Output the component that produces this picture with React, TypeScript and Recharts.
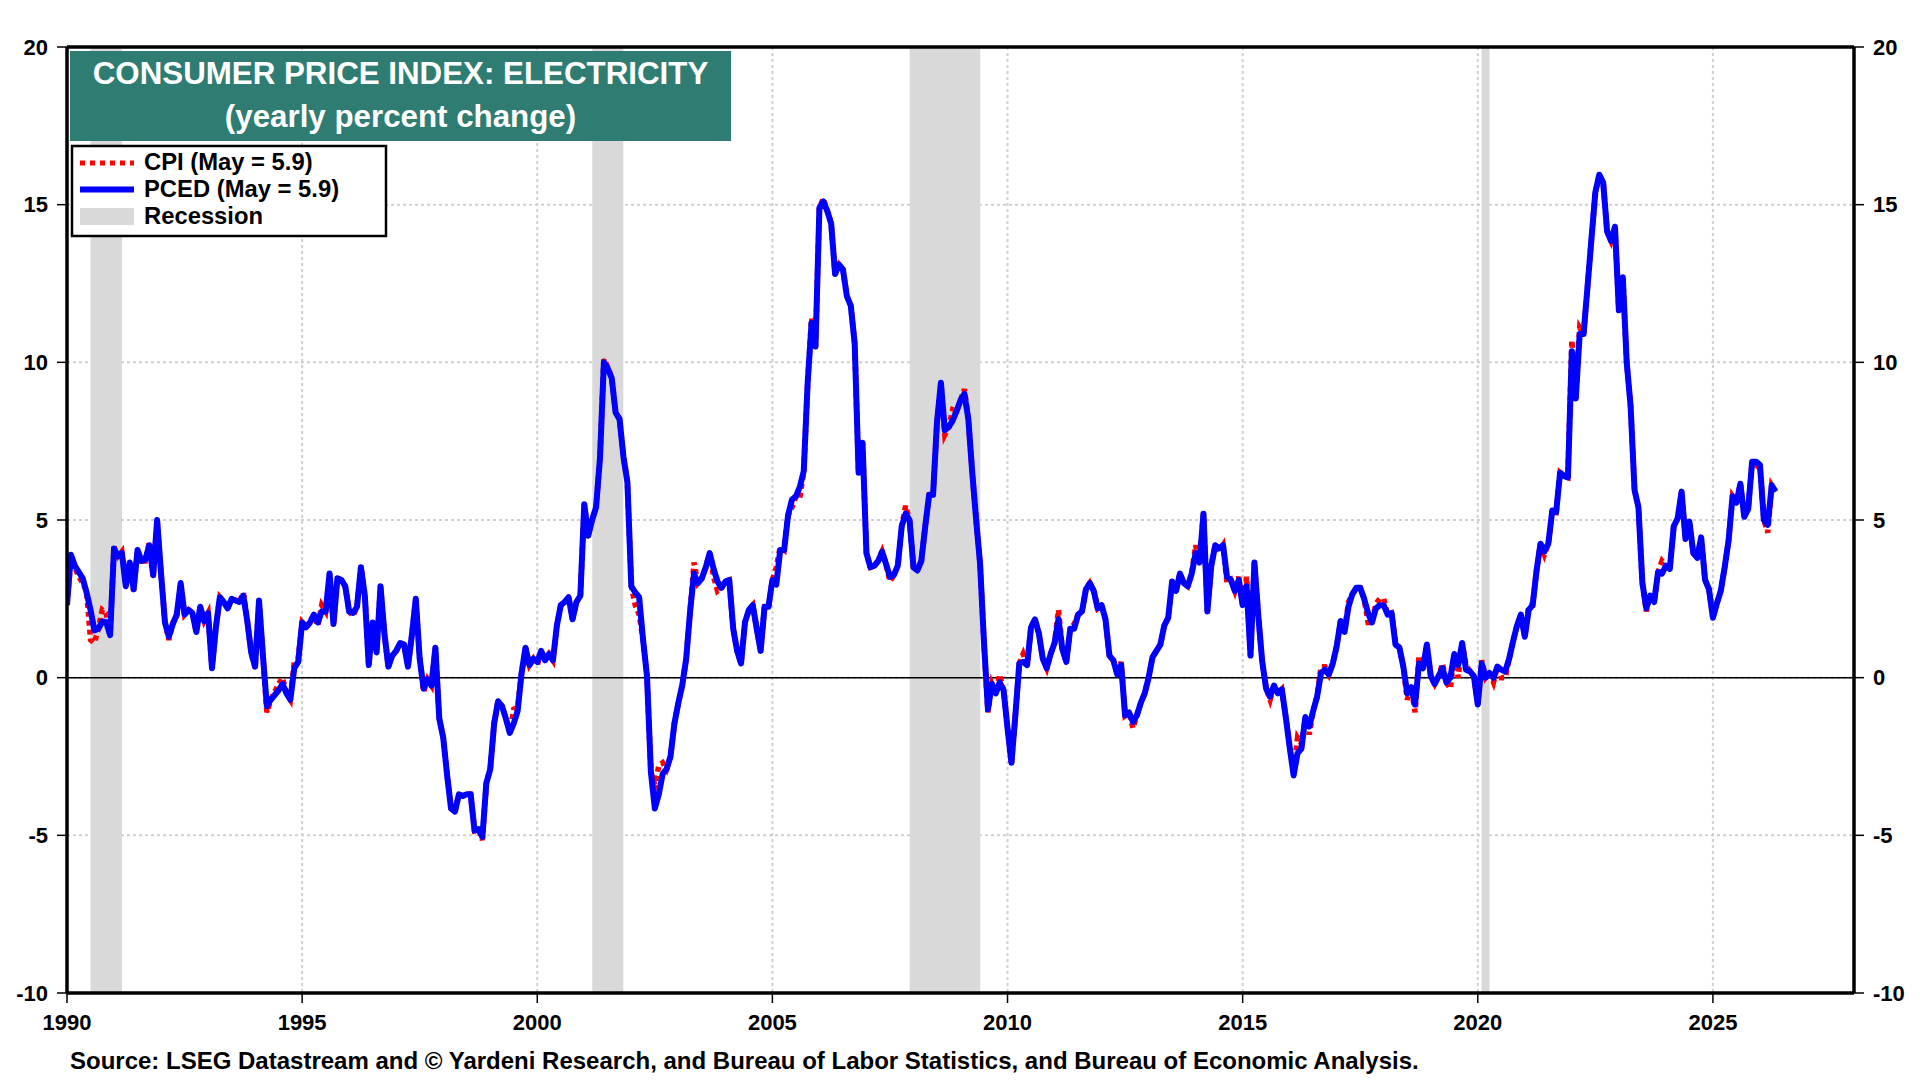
import React from 'react';
import { LineChart, Line, XAxis, YAxis, CartesianGrid, ReferenceArea, ReferenceLine } from 'recharts';

const FONT = '"Liberation Sans", Arial, Helvetica, sans-serif';

// Monthly series, first value = January 1990
const START_YEAR = 1990;

const pced: number[] = [
  // 1990
  2.3, 3.9, 3.55, 3.35, 3.15, 2.7, 2.15, 1.5, 1.55, 1.78, 1.76, 1.35,
  // 1991
  4.1, 3.85, 3.95, 2.9, 3.65, 2.8, 4.05, 3.7, 3.75, 4.2, 3.25, 5.0,
  // 1992
  3.3, 1.75, 1.3, 1.7, 2.0, 3.0, 2.0, 2.15, 2.05, 1.45, 2.25, 1.8,
  // 1993
  2.05, 0.3, 1.6, 2.55, 2.4, 2.2, 2.5, 2.45, 2.4, 2.6, 1.8, 0.8,
  // 1994
  0.35, 2.45, 0.7, -0.9, -0.7, -0.55, -0.4, -0.2, -0.5, -0.7, 0.3, 0.5,
  // 1995
  1.75, 1.6, 1.75, 2.0, 1.75, 2.1, 2.1, 3.3, 1.7, 3.15, 3.1, 2.9,
  // 1996
  2.1, 2.05, 2.25, 3.5, 2.6, 0.4, 1.75, 0.8, 2.9, 1.4, 0.35, 0.7,
  // 1997
  0.85, 1.1, 1.05, 0.35, 1.35, 2.5, 0.6, -0.35, -0.05, -0.25, 0.95, -1.3,
  // 1998
  -1.9, -3.1, -4.15, -4.25, -3.7, -3.75, -3.7, -3.7, -4.85, -4.8, -5.05, -3.35,
  // 1999
  -2.9, -1.45, -0.75, -0.9, -1.3, -1.75, -1.45, -1.05, 0.15, 0.95, 0.4, 0.6,
  // 2000
  0.5, 0.85, 0.55, 0.75, 0.55, 1.65, 2.3, 2.4, 2.55, 1.85, 2.4, 2.6,
  // 2001
  5.5, 4.5, 5.0, 5.4, 6.95, 10.0, 9.8, 9.5, 8.4, 8.2, 7.0, 6.2,
  // 2002
  2.9, 2.7, 2.55, 1.2, 0.05, -3.0, -4.15, -3.7, -3.05, -2.9, -2.5, -1.45,
  // 2003
  -0.8, -0.24, 0.6, 2.1, 3.3, 3.0, 3.15, 3.5, 3.95, 3.45, 3.05, 2.85,
  // 2004
  3.05, 3.1, 1.55, 0.85, 0.45, 1.75, 2.15, 2.3, 1.55, 0.85, 2.25, 2.25,
  // 2005
  3.1, 2.95, 4.05, 4.05, 5.15, 5.65, 5.75, 6.05, 6.55, 9.35, 11.25, 10.5,
  // 2006
  14.9, 15.1, 14.8, 14.4, 12.8, 13.1, 12.95, 12.1, 11.8, 10.6, 6.5, 7.45,
  // 2007
  3.95, 3.5, 3.55, 3.7, 4.0, 3.6, 3.2, 3.25, 3.55, 4.8, 5.2, 5.0,
  // 2008
  3.5, 3.4, 3.7, 4.8, 5.8, 5.8, 8.1, 9.35, 7.85, 7.95, 8.15, 8.45,
  // 2009
  8.8, 9.0, 8.2, 6.5, 5.0, 3.6, 1.1, -1.0, -0.2, -0.5, -0.15, -0.4,
  // 2010
  -1.6, -2.7, -1.2, 0.45, 0.5, 0.4, 1.6, 1.85, 1.4, 0.6, 0.3, 0.75,
  // 2011
  1.1, 1.85, 0.9, 0.5, 1.55, 1.55, 2.0, 2.1, 2.8, 3.0, 2.75, 2.2,
  // 2012
  2.3, 1.85, 0.7, 0.55, 0.1, 0.4, -1.2, -1.1, -1.4, -1.2, -0.8, -0.5,
  // 2013
  0.0, 0.65, 0.85, 1.05, 1.65, 1.9, 3.05, 2.75, 3.3, 3.0, 2.9, 3.3,
  // 2014
  3.95, 3.65, 5.2, 2.1, 3.55, 4.2, 4.1, 4.2, 3.2, 3.1, 2.75, 3.1,
  // 2015
  2.3, 2.9, 0.7, 3.65, 1.95, 0.5, -0.35, -0.6, -0.25, -0.5, -0.37, -1.25,
  // 2016
  -2.2, -3.1, -2.4, -2.25, -1.25, -1.55, -1.05, -0.6, 0.15, 0.25, 0.1, 0.45,
  // 2017
  1.0, 1.8, 1.45, 2.25, 2.65, 2.85, 2.85, 2.5, 2.05, 1.75, 2.2, 2.3,
  // 2018
  2.3, 2.0, 2.05, 1.05, 0.95, 0.35, -0.5, -0.3, -0.85, 0.45, 0.3, 1.05,
  // 2019
  0.05, -0.2, 0.05, 0.3, -0.15, 0.0, 0.75, 0.4, 1.1, 0.25, 0.2, 0.05,
  // 2020
  -0.85, 0.45, 0.0, 0.15, 0.0, 0.35, 0.25, 0.2, 0.6, 1.15, 1.65, 2.0,
  // 2021
  1.3, 2.15, 2.3, 3.4, 4.25, 4.0, 4.25, 5.3, 5.25, 6.5, 6.4, 6.35,
  // 2022
  10.35, 8.85, 10.9, 10.9, 12.4, 13.9, 15.4, 15.95, 15.7, 14.15, 13.85, 14.3,
  // 2023
  11.65, 12.7, 10.0, 8.6, 5.95, 5.4, 3.0, 2.2, 2.6, 2.4, 3.35, 3.3,
  // 2024
  3.55, 3.45, 4.8, 5.05, 5.9, 4.4, 4.95, 3.95, 3.8, 4.45, 3.1, 2.8,
  // 2025
  1.9, 2.35, 2.75, 3.5, 4.35, 5.75, 5.55, 6.15, 5.1, 5.35, 6.85, 6.85,
  // 2026
  6.75, 5.0, 4.85, 6.1, 5.9,
];

const cpi: number[] = [
  // 1990
  2.3, 3.85, 3.5, 3.2, 3.0, 2.75, 1.2, 1.1, 1.55, 2.15, 2.05, 1.35,
  // 1991
  4.15, 3.85, 4.0, 2.9, 3.7, 2.75, 4.05, 3.7, 3.7, 4.3, 3.2, 5.0,
  // 1992
  3.3, 1.75, 1.2, 1.75, 1.95, 3.0, 2.0, 2.15, 2.05, 1.45, 2.25, 1.8,
  // 1993
  2.05, 0.3, 1.6, 2.55, 2.4, 2.2, 2.5, 2.45, 2.4, 2.7, 1.8, 0.8,
  // 1994
  0.3, 2.45, 0.7, -1.1, -0.7, -0.45, -0.2, 0.0, -0.5, -0.7, 0.5, 0.6,
  // 1995
  1.75, 1.6, 1.75, 2.0, 1.65, 2.3, 2.1, 3.3, 1.7, 3.15, 3.1, 2.9,
  // 1996
  2.1, 1.95, 2.25, 3.55, 2.6, 0.4, 1.75, 0.8, 2.9, 1.4, 0.35, 0.7,
  // 1997
  0.85, 1.1, 1.05, 0.35, 1.35, 2.5, 0.6, -0.45, -0.05, -0.25, 0.95, -1.3,
  // 1998
  -1.9, -3.1, -4.15, -4.25, -3.7, -3.75, -3.7, -3.7, -4.85, -4.8, -5.15, -3.35,
  // 1999
  -2.9, -1.45, -0.75, -0.9, -1.3, -1.75, -1.0, -0.95, 0.15, 0.95, 0.4, 0.6,
  // 2000
  0.4, 0.85, 0.55, 0.75, 0.55, 1.65, 2.3, 2.4, 2.55, 1.85, 2.4, 2.6,
  // 2001
  5.5, 4.5, 5.0, 5.4, 6.95, 10.1, 9.85, 9.5, 8.4, 8.2, 7.0, 6.2,
  // 2002
  2.9, 2.3, 2.0, 1.2, 0.05, -3.0, -3.4, -2.8, -2.7, -2.9, -2.5, -1.45,
  // 2003
  -0.8, -0.24, 0.6, 2.1, 3.65, 3.0, 3.15, 3.5, 3.95, 3.2, 2.75, 2.85,
  // 2004
  3.05, 3.1, 1.55, 0.85, 0.45, 1.75, 2.15, 2.3, 1.55, 0.85, 2.25, 2.25,
  // 2005
  3.1, 3.5, 4.15, 4.05, 5.15, 5.4, 5.75, 5.7, 6.55, 9.35, 11.4, 10.5,
  // 2006
  14.9, 15.2, 14.8, 14.4, 12.8, 13.1, 12.95, 12.1, 11.8, 10.6, 6.5, 7.45,
  // 2007
  3.95, 3.5, 3.55, 3.7, 4.0, 3.6, 3.05, 3.25, 3.55, 4.8, 5.45, 5.0,
  // 2008
  3.5, 3.4, 3.7, 4.8, 5.8, 5.8, 8.1, 9.35, 7.7, 7.95, 8.5, 8.45,
  // 2009
  8.8, 9.15, 8.2, 6.5, 5.0, 3.6, 1.1, -1.1, -0.2, -0.5, 0.1, -0.4,
  // 2010
  -1.6, -2.75, -1.2, 0.45, 0.75, 0.4, 1.6, 1.85, 1.4, 0.6, 0.3, 0.75,
  // 2011
  1.1, 2.15, 0.9, 0.5, 1.55, 1.7, 2.0, 2.1, 2.8, 3.0, 2.75, 2.2,
  // 2012
  2.3, 1.85, 0.7, 0.55, 0.1, 0.5, -1.2, -1.1, -1.6, -1.2, -0.8, -0.5,
  // 2013
  0.0, 0.65, 0.85, 1.05, 1.65, 1.9, 3.05, 2.75, 3.3, 3.0, 2.9, 3.3,
  // 2014
  4.2, 3.65, 5.2, 2.1, 3.55, 4.2, 4.0, 4.2, 3.0, 3.1, 2.75, 3.2,
  // 2015
  2.3, 3.2, 0.7, 3.65, 1.95, 0.5, -0.35, -0.7, -0.25, -0.5, -0.37, -1.25,
  // 2016
  -2.2, -3.0, -1.9, -2.1, -1.25, -1.8, -1.05, -0.6, 0.35, 0.35, 0.1, 0.45,
  // 2017
  1.0, 1.8, 1.45, 2.4, 2.65, 2.85, 2.85, 2.5, 1.75, 1.75, 2.35, 2.5,
  // 2018
  2.5, 2.0, 2.05, 1.15, 0.95, 0.35, -0.7, -0.3, -1.1, 0.7, 0.3, 1.05,
  // 2019
  0.05, -0.2, 0.05, 0.45, -0.15, -0.35, 0.75, 0.0, 1.1, 0.4, 0.2, 0.05,
  // 2020
  -0.85, 0.55, 0.0, 0.15, -0.15, 0.35, 0.0, 0.0, 0.6, 1.15, 1.65, 2.0,
  // 2021
  1.3, 2.3, 2.3, 3.4, 4.25, 3.9, 4.25, 5.3, 5.25, 6.5, 6.4, 6.35,
  // 2022
  10.7, 8.85, 11.1, 10.9, 12.4, 13.9, 15.4, 15.95, 15.7, 14.15, 13.85, 14.3,
  // 2023
  11.65, 12.7, 10.0, 8.6, 5.95, 5.4, 3.0, 2.1, 2.6, 2.4, 3.35, 3.7,
  // 2024
  3.55, 3.45, 4.8, 5.05, 5.9, 4.4, 4.95, 3.95, 3.8, 4.45, 3.1, 2.8,
  // 2025
  1.9, 2.35, 2.75, 3.5, 4.35, 5.75, 5.55, 6.15, 5.1, 5.35, 6.85, 6.6,
  // 2026
  6.75, 5.0, 4.6, 6.1, 5.9,
];

const recessions: [number, number][] = [
  [1990.5, 1991.17],
  [2001.17, 2001.83],
  [2007.92, 2009.42],
  [2020.08, 2020.25],
];

const xTicks = [1990, 1995, 2000, 2005, 2010, 2015, 2020, 2025];
const yTicks = [-10, -5, 0, 5, 10, 15, 20];

const titleLines = ['CONSUMER PRICE INDEX: ELECTRICITY', '(yearly percent change)'];
const legendLabels = ['CPI (May = 5.9)', 'PCED (May = 5.9)', 'Recession'];
const sourceText =
  'Source: LSEG Datastream and \u00A9 Yardeni Research, and Bureau of Labor Statistics, and Bureau of Economic Analysis.';

const data = pced.map((v, i) => ({ t: START_YEAR + i / 12, pced: v, cpi: cpi[i] }));

const tickStyle = { fontSize: 22, fontWeight: 700, fill: '#000', fontFamily: FONT };

export default function App() {
  return (
    <div style={{ position: 'absolute', left: 0, top: 0, width: 1920, height: 1080, background: '#fff' }}>
      <LineChart
        width={1920}
        height={1080}
        data={data}
        margin={{ top: 17, right: 10, bottom: 47, left: 10 }}
      >
        {recessions.map(([a, b]) => (
          <ReferenceArea
            key={a}
            x1={a}
            x2={b}
            xAxisId="bottom"
            yAxisId="left"
            fill="#d9d9d9"
            fillOpacity={1}
            stroke="none"
            ifOverflow="extendDomain"
          />
        ))}
        <CartesianGrid
          xAxisId="bottom"
          yAxisId="left"
          stroke="#d0d0d0"
          strokeWidth={2}
          strokeDasharray="3 3"
        />
        <XAxis
          xAxisId="bottom"
          dataKey="t"
          type="number"
          domain={[1990, 2028]}
          ticks={xTicks}
          allowDataOverflow
          height={40}
          tickSize={10}
          tickMargin={11}
          interval={0}
          axisLine={{ stroke: '#000', strokeWidth: 3.5 }}
          tickLine={{ stroke: '#000', strokeWidth: 1.5 }}
          tick={tickStyle}
        />
        <XAxis
          xAxisId="top"
          orientation="top"
          dataKey="t"
          type="number"
          domain={[1990, 2028]}
          ticks={xTicks}
          height={30}
          tick={false}
          tickLine={false}
          axisLine={{ stroke: '#000', strokeWidth: 3.5 }}
        />
        <YAxis
          yAxisId="left"
          type="number"
          domain={[-10, 20]}
          ticks={yTicks}
          width={57}
          tickSize={10}
          tickMargin={9}
          interval={0}
          allowDataOverflow
          axisLine={{ stroke: '#000', strokeWidth: 3.5 }}
          tickLine={{ stroke: '#000', strokeWidth: 1.5 }}
          tick={tickStyle}
        />
        <YAxis
          yAxisId="right"
          orientation="right"
          type="number"
          domain={[-10, 20]}
          ticks={yTicks}
          width={56}
          tickSize={10}
          tickMargin={9}
          interval={0}
          allowDataOverflow
          axisLine={{ stroke: '#000', strokeWidth: 3.5 }}
          tickLine={{ stroke: '#000', strokeWidth: 1.5 }}
          tick={tickStyle}
        />
        <ReferenceLine y={0} xAxisId="bottom" yAxisId="left" stroke="#000" strokeWidth={1.5} />
        <Line
          xAxisId="bottom"
          yAxisId="left"
          type="linear"
          dataKey="cpi"
          stroke="#ff0000"
          strokeWidth={5.5}
          strokeDasharray="5 4"
          dot={false}
          activeDot={false}
          isAnimationActive={false}
        />
        <Line
          xAxisId="bottom"
          yAxisId="left"
          type="linear"
          dataKey="pced"
          stroke="#0000ff"
          strokeWidth={6}
          strokeLinejoin="round"
          dot={false}
          activeDot={false}
          isAnimationActive={false}
        />
      </LineChart>

      <svg
        width={1920}
        height={1080}
        style={{ position: 'absolute', left: 0, top: 0, pointerEvents: 'none' }}
      >
        <rect x={70} y={51} width={661} height={90} fill="#2f7d72" />
        <text x={400.5} y={84} textAnchor="middle" fill="#fff" fontFamily={FONT} fontWeight={700} fontSize={31.3}>
          {titleLines[0]}
        </text>
        <text x={400.5} y={127} textAnchor="middle" fill="#fff" fontFamily={FONT} fontWeight={700} fontSize={31.3}>
          {titleLines[1]}
        </text>

        <rect x={72} y={146} width={314} height={90} fill="#fff" stroke="#000" strokeWidth={2.5} />
        <line x1={80} y1={163} x2={134} y2={163} stroke="#ff0000" strokeWidth={5} strokeDasharray="5 5" />
        <line x1={80} y1={189.5} x2={134} y2={189.5} stroke="#0000ff" strokeWidth={6} />
        <rect x={80} y={208} width={54} height={17} fill="#d9d9d9" />
        {legendLabels.map((l, i) => (
          <text key={l} x={144} y={170 + i * 27} fill="#000" fontFamily={FONT} fontWeight={700} fontSize={23.8}>
            {l}
          </text>
        ))}

        <text x={70} y={1069} fill="#000" fontFamily={FONT} fontWeight={700} fontSize={24}>
          {sourceText}
        </text>
      </svg>
    </div>
  );
}
